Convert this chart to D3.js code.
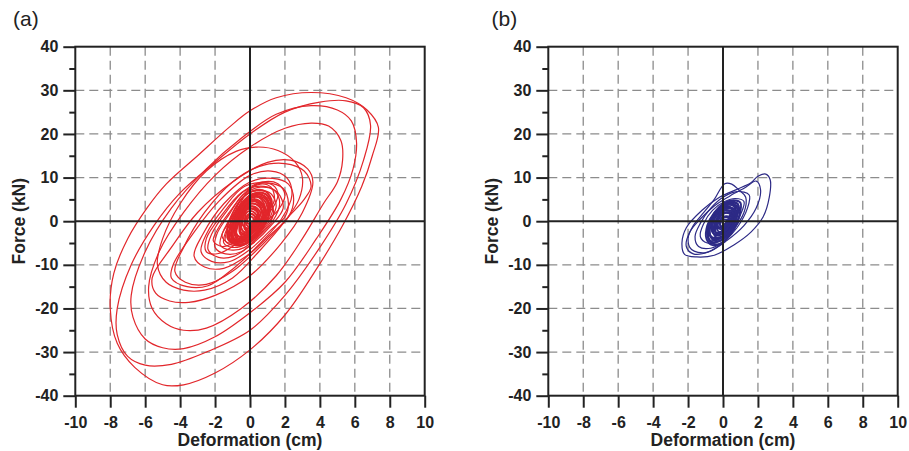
<!DOCTYPE html>
<html><head><meta charset="utf-8">
<script src="https://cdn.jsdelivr.net/npm/d3@7"></script>
<style>body{margin:0;background:#fff}svg{display:block}text{font-family:"Liberation Sans",Arial,Helvetica,sans-serif}</style>
</head><body><svg id="c" width="909" height="451"></svg>
<script>
const xTicks=[-10,-8,-6,-4,-2,0,2,4,6,8,10];
const yTicks=[-40,-30,-20,-10,0,10,20,30,40];
const yMinorTicks=[-35,-25,-15,-5,5,15,25,35];
const xGrid=[-8,-6,-4,-2,2,4,6,8];
const yGrid=[-30,-20,-10,10,20,30];
const panelLabels=["(a)","(b)"];
const xTitle="Deformation (cm)";
const yTitle="Force (kN)";
const seriesColors=["#e2262b","#2d2a86"];

// Panel (a) hysteresis loops, [deformation cm, force kN]
const loopsA=[
[[7.35,21.5],[6.7,25.5],[5.5,28.3],[3.5,29.5],[1.5,28.3],[0,25.3],[-1.2,21.5],[-3,15],[-4.8,8.5],[-5.9,3],[-7,-4],[-7.8,-12],[-8,-20],[-7.6,-28],[-6.6,-33.5],[-5,-37.5],[-3.8,-37.5],[-2,-34.8],[0,-29.5],[2,-21.5],[3.8,-11],[5.3,-1],[6.4,8],[7,15]],
[[6.9,22],[6.5,26],[5.5,27.6],[4,27.3],[2,25],[0,20],[-2,13.5],[-4,6.5],[-5.5,-1],[-6.8,-10],[-7.6,-20],[-7.6,-26],[-7,-31],[-6,-33],[-4.5,-32.8],[-2.5,-30],[0,-25],[2,-17],[4,-6],[5.5,4],[6.5,14]],
[[6.1,18],[5.8,23],[5,25.5],[3.5,26.5],[1.5,24.5],[-0.5,19],[-2.5,12],[-4.5,3],[-6,-7],[-6.8,-17],[-6.7,-22],[-6,-27],[-5,-29],[-3.8,-29.2],[-2,-26.5],[0,-21],[2,-14],[3.8,-4],[5.2,5],[5.9,12]],
[[5.3,14],[5.2,18.5],[4.5,21.8],[3.5,22.5],[2,21.3],[0,17],[-2,10.5],[-3.8,2],[-5.2,-7],[-5.8,-15],[-5.6,-20],[-4.8,-23.5],[-3.8,-25],[-2.5,-24.5],[-0.5,-20],[1.5,-12.5],[3,-4],[4.2,4],[5,9]],
[[3.6,9],[3.3,12],[2.3,14],[1,13.5],[-1,9],[-3,2],[-4.5,-6],[-5.6,-13],[-5.4,-16.5],[-4.6,-18.3],[-3.5,-18.6],[-2,-17],[0,-12.5],[1.8,-5],[3,2]],
[[3.0,10],[2.6,13.5],[1.6,16.2],[0.4,17],[-0.8,16],[-2.5,11.5],[-4,4],[-5,-4],[-5.3,-10],[-4.8,-14],[-3.8,-15.8],[-2.6,-15.8],[-1,-13],[0.5,-7],[2,0],[2.8,5]],
[[3.5,8],[3.1,11.5],[2,13.2],[0.5,12.5],[-1,9],[-2.6,2],[-3.8,-6],[-4.3,-11.5],[-3.7,-14],[-2.5,-14.5],[-1,-11.5],[0.8,-5],[2.2,1],[3.1,5]],
[[2.4,6],[2.1,10],[1.2,11.5],[0,10.5],[-1.8,4.5],[-3.2,-2.5],[-4.4,-10],[-4.5,-13],[-3.6,-15],[-2.4,-14.8],[-1,-11],[0.6,-5],[1.8,0.5]],
[[2.5,5],[2.2,8.5],[1.3,9.8],[0,9],[-1.5,4],[-2.7,-3],[-3.2,-8],[-2.6,-10.5],[-1.5,-10.8],[-0.2,-8],[1.2,-3],[2.2,1]],
[[2.2,4],[1.9,7.5],[1,8.8],[-0.3,8],[-1.5,3],[-2.5,-3],[-2.8,-7],[-2.2,-9.2],[-1.2,-9.3],[0,-6.5],[1.2,-2],[2,1]],
[[1.9,3],[1.6,6.5],[0.8,8],[-0.3,7],[-1.3,2.5],[-2.2,-3],[-2.4,-6.5],[-1.8,-8.3],[-0.9,-8],[0.2,-5],[1.2,-1]],
[[2.0,6],[1.6,8.6],[0.7,9],[-0.5,6.5],[-1.6,1.5],[-2.5,-4],[-2.5,-7],[-1.8,-7.4],[-0.7,-5],[0.6,-1],[1.6,2.5]],
[[1.7,4],[1.4,7],[0.6,7.8],[-0.4,6],[-1.2,1.5],[-1.9,-3],[-2,-6],[-1.4,-7.5],[-0.5,-7],[0.5,-3.5],[1.3,0]],
[[1.6,6],[1.3,8.3],[0.5,8.6],[-0.3,6.5],[-1.1,2.5],[-1.8,-1.5],[-2.1,-4.5],[-1.6,-5.8],[-0.7,-4.5],[0.3,-1],[1.2,2.5]],
[[1.5,3.5],[1.2,6.3],[0.5,7],[-0.4,5.5],[-1,1],[-1.6,-3],[-1.7,-5.5],[-1.1,-6.6],[-0.3,-6],[0.6,-2.5],[1.2,0.5]],
[[1.4,5],[1.2,7.8],[0.6,8.5],[-0.1,7],[-0.7,3],[-1.3,-0.5],[-1.6,-3.5],[-1.2,-5],[-0.4,-3.5],[0.5,0],[1.1,2.5]],
[[1.3,3],[1.0,5.8],[0.4,6.5],[-0.3,5],[-0.9,1],[-1.4,-2.5],[-1.5,-5],[-1,-6],[-0.2,-5.2],[0.6,-2],[1.1,0.5]],
[[1.35,2],[1.1,5],[0.5,6],[-0.2,4.8],[-0.8,1.5],[-1.3,-2],[-1.4,-4.6],[-0.8,-5.6],[0,-4.8],[0.8,-2],[1.2,0]],
[[1.25,4.5],[0.9,6.8],[0.2,7],[-0.5,5],[-1,1.8],[-1.3,-1.5],[-1.2,-4],[-0.7,-4.6],[0,-3],[0.7,0.5],[1.1,2.8]],
[[1.2,4],[0.9,6.2],[0.3,6.4],[-0.2,4.5],[-0.6,1.5],[-1.1,-1.5],[-1.3,-3.8],[-0.9,-5],[-0.3,-4],[0.5,-1],[1,1.5]],
[[1.15,3.2],[0.8,5.8],[0.1,6],[-0.5,4],[-1,0.5],[-1.2,-2.8],[-1,-5],[-0.4,-5.4],[0.3,-3.5],[0.9,-0.5]],
[[1.1,2.5],[0.9,5],[0.3,5.8],[-0.3,4.5],[-0.8,1],[-1.2,-2.5],[-1.2,-4.5],[-0.7,-5.3],[0,-4.5],[0.6,-1.5],[1,0.5]],
[[1.05,4],[0.7,6],[0.1,6.2],[-0.4,4.2],[-0.8,1.2],[-1.05,-1.8],[-1,-4],[-0.5,-4.4],[0.2,-2.5],[0.8,1]],
[[1.0,3],[0.7,5.2],[0.2,5.5],[-0.4,3.5],[-0.9,-0.5],[-1.1,-3],[-0.9,-4.8],[-0.4,-4.8],[0.3,-3],[0.8,0]],
[[0.95,1.5],[0.7,4],[0.2,4.8],[-0.3,3.2],[-0.7,0.2],[-1,-3.2],[-0.85,-5],[-0.3,-5.2],[0.3,-3],[0.8,-0.8]],
[[0.9,2],[0.6,4.5],[0.1,5],[-0.4,3],[-0.8,0],[-1,-3],[-0.8,-4.3],[-0.3,-4.2],[0.3,-2],[0.7,0.5]],
[[0.85,3.5],[0.5,5.5],[0,5.6],[-0.5,3.8],[-0.8,1],[-0.9,-2],[-0.6,-3.6],[-0.1,-3],[0.5,-0.5],[0.8,1.8]],
[[0.8,2.5],[0.5,4.2],[0,4.5],[-0.4,2.5],[-0.7,-0.5],[-0.9,-3],[-0.6,-4],[-0.1,-3.5],[0.4,-1.5],[0.7,0.8]],
[[0.75,1.2],[0.5,3.5],[0,4],[-0.4,2],[-0.7,-1],[-0.8,-3.8],[-0.5,-4.6],[0,-3.8],[0.5,-1.5]],
[[0.7,2],[0.4,3.8],[-0.1,3.8],[-0.5,1.5],[-0.8,-1.5],[-0.7,-3.3],[-0.3,-3.6],[0.2,-2],[0.6,0]],
[[0.65,3],[0.3,4.6],[-0.2,4.3],[-0.5,2.2],[-0.6,-0.5],[-0.5,-2.6],[-0.1,-2.4],[0.3,-0.2],[0.6,1.6]],
[[0.6,1.8],[0.3,3.3],[-0.1,3.2],[-0.5,1],[-0.6,-1.5],[-0.5,-3],[-0.1,-2.8],[0.3,-1],[0.5,0.5]],
[[0.55,0.8],[0.3,2.6],[-0.15,2.8],[-0.45,0.2],[-0.6,-2.4],[-0.35,-3.6],[0.1,-2.8],[0.45,-0.8]],
[[0.5,1.5],[0.2,2.8],[-0.2,2.6],[-0.4,0.5],[-0.5,-1.5],[-0.3,-2.5],[0,-2],[0.3,-0.5]],
[[0.45,2.2],[0.1,3.4],[-0.3,2.8],[-0.45,0.8],[-0.4,-1],[-0.1,-1.6],[0.3,0.2]],
[[0.4,1.2],[0.1,2.3],[-0.2,2],[-0.3,0],[-0.3,-1.8],[0,-1.6],[0.3,-0.3]],
[[0.35,0.2],[0.15,1.6],[-0.15,1.2],[-0.3,-0.8],[-0.2,-2.2],[0.1,-1.6]],
[[0.3,1],[0,1.7],[-0.2,1],[-0.2,-0.8],[0,-1.2],[0.2,-0.3]],
[[0.2,0.6],[0,1.1],[-0.15,0.4],[-0.1,-0.6],[0.1,-0.4]]
];

// Panel (b) hysteresis loops
const loopsB=[
[[2.45,10.8],[2.7,9.5],[2.65,5.5],[2.3,1],[1.6,-2.5],[0.6,-5.5],[-0.5,-7.8],[-1.5,-8.2],[-2.2,-7.6],[-2.35,-5],[-2.1,-1.5],[-1.2,2.5],[-0.2,5.5],[0.8,7.3],[1.6,8.8],[2.0,10.3]],
[[1.9,9.2],[2.15,7.2],[1.9,3],[1.2,-1],[0.2,-4.5],[-0.8,-7],[-1.7,-7.5],[-2.1,-5.8],[-1.9,-2.5],[-1.3,0.5],[-0.5,3.5],[0.4,5.8],[1.3,7.8]],
[[0.9,7.2],[1.3,5.5],[1.2,2],[0.5,-2.5],[-0.2,-5.5],[-1,-7.2],[-1.8,-6.5],[-2.0,-4],[-1.7,-1],[-1.1,2],[-0.5,5],[0.1,8.6],[0.5,8.5]],
[[1.5,6],[1.4,3],[0.8,-1.5],[0.1,-4.5],[-0.7,-6.2],[-1.4,-5.8],[-1.6,-3.5],[-1.3,-0.5],[-0.7,3],[0,5.5],[0.8,6.8]],
[[1.2,4.5],[1.0,1.5],[0.5,-2],[-0.2,-4.5],[-0.9,-5],[-1.3,-3.5],[-1.1,-0.5],[-0.6,2.5],[0.1,4.5],[0.7,5.2]],
[[1.0,4.2],[0.95,1.5],[0.5,-2.5],[-0.1,-5],[-0.6,-5.5],[-0.95,-4],[-0.9,-1],[-0.5,2],[0.1,4.2],[0.6,4.8]],
[[0.95,2.8],[0.85,0],[0.4,-3.2],[-0.15,-5.2],[-0.65,-5],[-0.9,-2.8],[-0.7,0.2],[-0.3,2.8],[0.3,4.3]],
[[0.9,3.5],[0.8,1],[0.4,-2],[-0.2,-4],[-0.7,-4.5],[-0.9,-3],[-0.8,-0.5],[-0.4,2],[0.1,3.8],[0.6,4.3]],
[[0.85,4],[0.75,1.2],[0.3,-2.5],[-0.2,-4.6],[-0.7,-4.8],[-0.85,-2.5],[-0.6,0.5],[-0.2,3],[0.3,4.5]],
[[0.8,3],[0.6,0.5],[0.2,-2.5],[-0.3,-3.8],[-0.7,-3.5],[-0.8,-1.5],[-0.5,1],[-0.1,3],[0.4,3.8]],
[[0.78,1.6],[0.6,-1.2],[0.2,-3.6],[-0.3,-4.6],[-0.65,-4],[-0.75,-1.8],[-0.45,1],[0,2.8],[0.45,3]],
[[0.75,2],[0.55,-0.8],[0.1,-3.2],[-0.4,-4.2],[-0.75,-3],[-0.7,-0.5],[-0.3,2],[0.2,3.5]],
[[0.72,3.4],[0.5,0.8],[0.05,-2],[-0.4,-3.2],[-0.65,-2],[-0.5,0.5],[-0.15,2.6],[0.3,3.9]],
[[0.7,2.5],[0.5,0],[0.1,-2.5],[-0.3,-3.3],[-0.6,-2.5],[-0.6,-0.5],[-0.3,1.8],[0.2,3.2]],
[[0.65,3.2],[0.45,0.5],[0,-2],[-0.45,-3],[-0.6,-1.5],[-0.45,1],[-0.1,3],[0.35,3.8]],
[[0.62,0.8],[0.45,-1.5],[0.05,-3.4],[-0.35,-3.8],[-0.55,-2.2],[-0.35,0.2],[0.05,1.8],[0.4,2]],
[[0.6,2],[0.4,-0.3],[0,-2.2],[-0.4,-2.6],[-0.5,-1],[-0.3,1],[0.1,2.5]],
[[0.55,1.2],[0.35,-1],[-0.05,-2.8],[-0.35,-3],[-0.45,-1.2],[-0.2,0.8],[0.2,2]],
[[0.52,2.6],[0.35,0.6],[0,-1],[-0.35,-1.6],[-0.4,0],[-0.15,2],[0.25,3]],
[[0.5,1.5],[0.3,-0.5],[-0.1,-1.8],[-0.3,-1.5],[-0.3,0.3],[0,1.8]],
[[0.45,0.4],[0.3,-1.4],[-0.05,-2.5],[-0.3,-2.2],[-0.3,-0.6],[0.05,0.9]],
[[0.4,2.2],[0.25,0],[-0.1,-1.5],[-0.3,-1],[-0.2,1],[0.1,2.4]],
[[0.35,1],[0.2,-0.5],[-0.1,-1.2],[-0.2,-0.3],[0,1]],
[[0.3,0],[0.15,-1],[-0.1,-1.4],[-0.15,-0.5],[0.05,0.4]]
];

const svg=d3.select("#c");
const W=349.4, T=46.7, H=349;
const panels=[
 {left:75.3,loops:loopsA,color:seriesColors[0],label:panelLabels[0],lx:13,core:1.4},
 {left:548.3,loops:loopsB,color:seriesColors[1],label:panelLabels[1],lx:491.5,core:1.05}
];
const ink="#222";
panels.forEach(p=>{
 const x=d3.scaleLinear().domain([-10,10]).range([p.left,p.left+W]);
 const y=d3.scaleLinear().domain([-40,40]).range([T+H,T]);
 const g=svg.append("g");
 g.selectAll(".vg").data(xGrid).join("line").attr("x1",d=>x(d)).attr("x2",d=>x(d))
  .attr("y1",T).attr("y2",T+H).attr("stroke","#8c8c8c").attr("stroke-width",1.3).attr("stroke-dasharray","9,5");
 g.selectAll(".hg").data(yGrid).join("line").attr("y1",d=>y(d)).attr("y2",d=>y(d))
  .attr("x1",p.left).attr("x2",p.left+W).attr("stroke","#8c8c8c").attr("stroke-width",1.3).attr("stroke-dasharray","9,5");
 const line=d3.line().x(d=>x(d[0])).y(d=>y(d[1])).curve(d3.curveCatmullRomClosed.alpha(0.5));
 g.append("g").selectAll("path").data(p.loops).join("path").attr("d",line)
  .attr("fill","none").attr("stroke",p.color)
  .attr("stroke-width",d=>d3.max(d,q=>Math.abs(q[0]))<p.core?1.9:1.2);
 g.append("line").attr("x1",x(0)).attr("x2",x(0)).attr("y1",T).attr("y2",T+H).attr("stroke",ink).attr("stroke-width",2);
 g.append("line").attr("x1",p.left).attr("x2",p.left+W).attr("y1",y(0)).attr("y2",y(0)).attr("stroke",ink).attr("stroke-width",2);
 g.append("rect").attr("x",p.left).attr("y",T).attr("width",W).attr("height",H)
  .attr("fill","none").attr("stroke",ink).attr("stroke-width",2);
 const ya=g.append("g").attr("transform",`translate(${p.left},0)`)
  .call(d3.axisLeft(y).tickValues(yTicks).tickSize(12).tickSizeOuter(0).tickPadding(5).tickFormat(d=>String(d)));
 const ym=g.append("g").attr("transform",`translate(${p.left},0)`)
  .call(d3.axisLeft(y).tickValues(yMinorTicks).tickSize(6).tickSizeOuter(0).tickFormat(""));
 const xa=g.append("g").attr("transform",`translate(0,${T+H})`)
  .call(d3.axisBottom(x).tickValues(xTicks).tickSize(12).tickSizeOuter(0).tickPadding(9.2).tickFormat(d=>String(d)));
 [ya,ym,xa].forEach(a=>{
  a.select(".domain").remove();
  a.selectAll(".tick line").attr("stroke",ink).attr("stroke-width",2);
  a.selectAll(".tick text").attr("fill",ink).attr("font-size","16px").attr("font-weight","bold")
   .attr("font-family",'"Liberation Sans",Arial,sans-serif');
 });
 g.append("text").attr("x",p.left+W/2).attr("y",446).attr("text-anchor","middle")
  .attr("font-size","17.5px").attr("font-weight","bold").attr("fill",ink).text(xTitle);
 g.append("text").attr("transform",`translate(${p.left-50.8},${T+H/2}) rotate(-90)`).attr("text-anchor","middle")
  .attr("font-size","17.5px").attr("font-weight","bold").attr("fill",ink).text(yTitle);
 g.append("text").attr("x",p.lx).attr("y",26).attr("font-size","21px").attr("fill",ink).text(p.label);
});
</script></body></html>
